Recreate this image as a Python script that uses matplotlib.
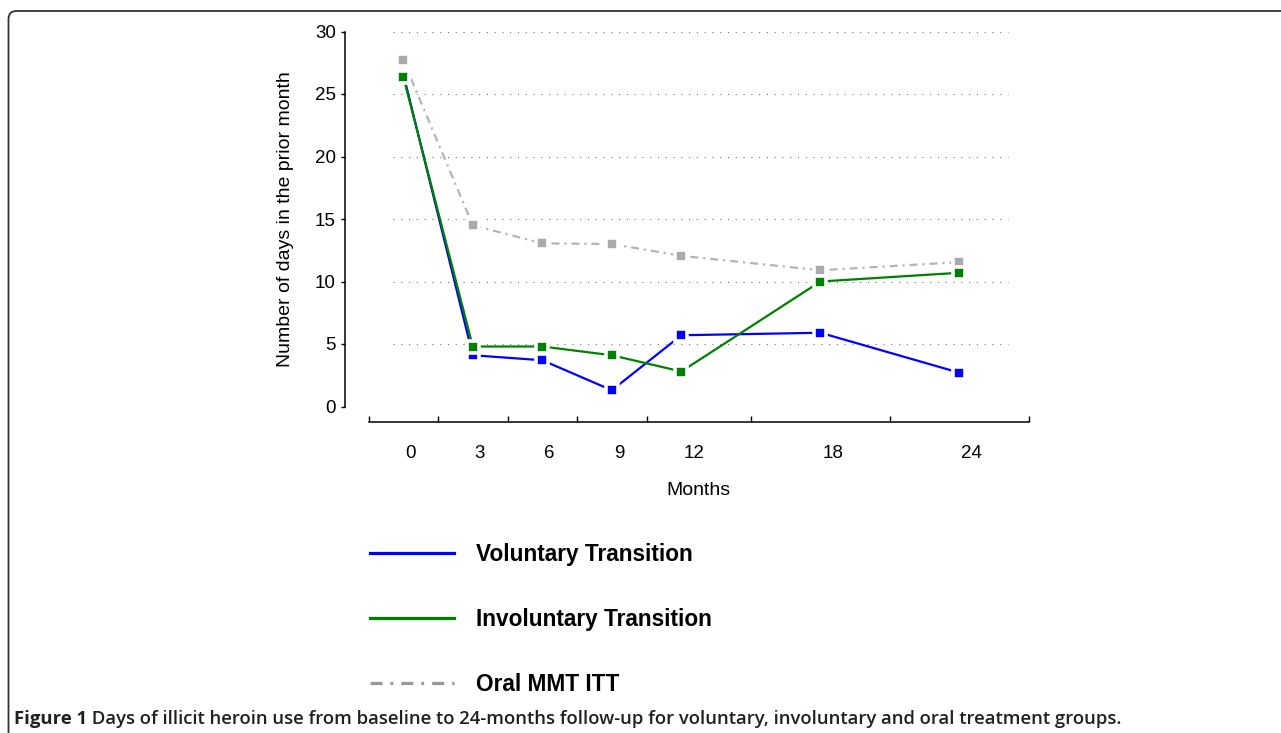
import matplotlib
matplotlib.use("Agg")
import matplotlib.pyplot as plt
import matplotlib.transforms as mtransforms
from matplotlib.lines import Line2D
from matplotlib.patches import FancyBboxPatch

plt.rcParams["font.family"] = ["Liberation Sans", "DejaVu Sans"]

# data
months = [0, 3, 6, 9, 12, 18, 24]
voluntary = [26.6, 4.1, 3.7, 1.3, 5.7, 5.9, 2.7]
involuntary = [26.4, 4.8, 4.8, 4.1, 2.8, 10.0, 10.7]
oral_itt = [27.7, 14.5, 13.05, 13.0, 12.05, 10.9, 11.55]
series_names = ["Voluntary Transition", "Involuntary Transition", "Oral MMT ITT"]
y_ticks = [0, 5, 10, 15, 20, 25, 30]
grid_levels = [5, 10, 15, 20, 25, 30]
caption_bold = "Figure 1"
caption_rest = (" Days of illicit heroin use from baseline to 24-months follow-up for "
                "voluntary, involuntary and oral treatment groups.")

BLUE, GREEN, GREY = "#0000ff", "#008000", "#aaaaaa"

fig = plt.figure(figsize=(12.81, 7.33), dpi=100)
ax = fig.add_axes([368.5 / 1281, 326.5 / 733, (1029 - 368.5) / 1281, 375 / 733])

# dotted horizontal guides
ax.hlines(grid_levels, -0.45, 26.1, colors="#777777", linewidth=0.8,
          linestyles=(0, (1, 6)), zorder=1)

mk = dict(marker="s", markersize=8.8, markeredgecolor="white", markeredgewidth=2.6,
          clip_on=False)
ax.plot(months, oral_itt, color="#b4b4b4", lw=1.6, dashes=(3.6, 2.2, 1, 2.2),
        markerfacecolor=GREY, zorder=2, **mk)
ax.plot(months, voluntary, color=BLUE, lw=1.6, markerfacecolor=BLUE, zorder=3, **mk)
ax.plot(months, involuntary, color=GREEN, lw=1.6, markerfacecolor=GREEN, zorder=4, **mk)

ax.set_xlim(-1.5, 27)
ax.set_ylim(0, 30)

for s in ("top", "right"):
    ax.spines[s].set_visible(False)
ax.spines["left"].set_position(("outward", 17))
ax.spines["bottom"].set_position(("outward", 11))
for s in ("left", "bottom"):
    ax.spines[s].set_linewidth(1.1)

ax.set_yticks(y_ticks)
ax.tick_params(axis="y", direction="out", length=3, width=1, pad=3.5, labelsize=13.5)

# month labels without marks; marks sit between the labels
ax.set_xticks(months)
ax.set_xticklabels([str(m) for m in months])
ax.tick_params(axis="x", which="major", length=0, pad=17, labelsize=13.5)
edges = [-1.5] + [(a + b) / 2 for a, b in zip(months[:-1], months[1:])] + [27]
ax.set_xticks(edges, minor=True)
ax.tick_params(axis="x", which="minor", direction="in", length=4, width=1)
shift = mtransforms.ScaledTranslation(2 / 100, 0, fig.dpi_scale_trans)
for lab in ax.get_xticklabels():
    lab.set_horizontalalignment("left")
    lab.set_transform(lab.get_transform() + shift)

ax.set_xlabel("Months", fontsize=14, labelpad=14)
ax.set_ylabel("Number of days in the prior month", fontsize=14, labelpad=15)

handles = [
    Line2D([], [], color=BLUE, lw=2.3),
    Line2D([], [], color=GREEN, lw=2.3),
    Line2D([], [], color="#999999", lw=2.3, dashes=(3.75, 2.5, 0.9, 2.5)),
]
fig.legend(handles, series_names, loc="upper left", bbox_to_anchor=(370 / 1281, 1 - 543 / 733),
           frameon=False, prop=dict(size=16.3, weight="bold"), handlelength=3.7,
           handletextpad=1.0, labelspacing=1.85, borderpad=0, borderaxespad=0)

# outer rounded frame
frame = FancyBboxPatch((0.085, -0.5), 14, 7.22 + 0.5, boxstyle="round,pad=0,rounding_size=0.08",
                       transform=fig.dpi_scale_trans, fill=False, edgecolor="#333333", lw=1.3)
fig.patches.append(frame)

t1 = fig.text(14 / 1281, 1 - 724 / 733, caption_bold, fontsize=13.3, weight="bold",
              family=["Open Sans", "DejaVu Sans"], color="#231f20")
fig.canvas.draw()
bb = t1.get_window_extent()
fig.text(bb.x1 / 1281, 1 - 724 / 733, caption_rest, fontsize=13.3, weight="semibold",
         family=["Open Sans", "DejaVu Sans"], color="#231f20")

fig.savefig("out.png", dpi=100)
